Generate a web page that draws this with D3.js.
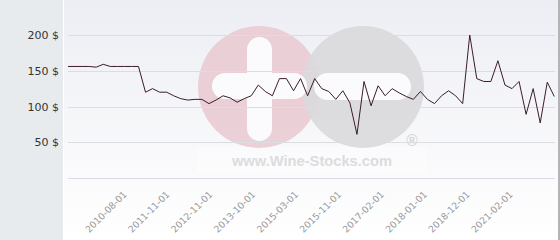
<!DOCTYPE html>
<html><head><meta charset="utf-8">
<script src="https://cdn.jsdelivr.net/npm/d3@7"></script>
<style>body{margin:0;background:#fff}svg{display:block}</style>
</head><body><svg id="c" width="560" height="240"></svg>
<script>
const priceValues = [156,156,156,156,155,159,156,156,156,156,156,120,125,120,120,115,111,109,110,110,
  104,109,115,112,106,111,115,130,121,115,139,139,122,139,115,139,125,121,110,122,
  105,61,135,101,129,115,125,119,114,110,121,110,104,115,122,115,104,200,139,135,
  135,164,130,125,135,89,125,77,134,114];
const tickIndex = [8,14,20,26,32,38,44,50,56,62];
const tickLabels = ["2010-08-01","2011-11-01","2012-11-01","2013-10-01","2015-03-01",
  "2015-11-01","2017-02-01","2018-01-01","2018-12-01","2021-02-01"];
const yTicks = [0,50,100,150,200];

(function(){
const svg = d3.select("#c");
const W = 560, H = 240;
const pLeft = 68, pRight = 554.3, pTop = 35, pBottom = 178;

const defs = svg.append("defs");
const g1 = defs.append("linearGradient").attr("id","bg").attr("x1",0).attr("y1",0).attr("x2",0).attr("y2",1);
g1.append("stop").attr("offset","0%").attr("stop-color","#edeef4");
g1.append("stop").attr("offset","100%").attr("stop-color","#ffffff");

svg.append("rect").attr("x",0).attr("y",0).attr("width",W).attr("height",H).attr("fill","url(#bg)");
svg.append("rect").attr("x",0).attr("y",0).attr("width",63).attr("height",H).attr("fill","#e7ebee");
svg.append("rect").attr("x",63).attr("y",0).attr("width",1).attr("height",H).attr("fill","#ffffff");
svg.append("rect").attr("x",558).attr("y",0).attr("width",2).attr("height",H).attr("fill","#b4b4b4");

const x = d3.scaleLinear().domain([0, priceValues.length-1]).range([pLeft, pRight]);
const y = d3.scaleLinear().domain([0, 200]).range([pBottom, pTop]);

// watermark
const wm = svg.append("g");
wm.append("rect").attr("x",197).attr("y",146).attr("width",230).attr("height",27).attr("fill","#ffffff").attr("opacity",0.35);
wm.append("circle").attr("cx",259).attr("cy",87).attr("r",61).attr("fill","#eacbd3").attr("opacity",0.9);
wm.append("circle").attr("cx",363).attr("cy",87).attr("r",61).attr("fill","#d9d9db").attr("opacity",0.9);
wm.append("rect").attr("x",247).attr("y",37).attr("width",25).attr("height",104).attr("rx",12.5).attr("fill","#fbfbfd");
wm.append("rect").attr("x",212).attr("y",73).attr("width",95).attr("height",26).attr("rx",13).attr("fill","#fbfbfd");
wm.append("rect").attr("x",314).attr("y",73).attr("width",97).attr("height",27).attr("rx",13.5).attr("fill","#fbfbfd");
wm.append("text").attr("x",412).attr("y",146).attr("text-anchor","middle").attr("font-family","DejaVu Sans")
  .attr("font-size",15).attr("fill","#d4d4d6").text("®");
wm.append("text").attr("x",312).attr("y",166).attr("text-anchor","middle").attr("font-family","Liberation Sans")
  .attr("font-weight","bold").attr("font-size",14.7).attr("fill","#dcdce0").text("www.Wine-Stocks.com");

// grid
svg.append("g").selectAll("line").data(yTicks).join("line")
  .attr("x1",pLeft).attr("x2",555).attr("y1",d=>Math.round(y(d))+0.5).attr("y2",d=>Math.round(y(d))+0.5)
  .attr("stroke","#dcdde2").attr("stroke-width",1);

// y labels
svg.append("g").selectAll("text").data(yTicks.filter(d=>d>0)).join("text")
  .attr("x",59).attr("y",d=>y(d)+4).attr("text-anchor","end")
  .attr("font-family","DejaVu Sans").attr("font-size",11).attr("fill","#333")
  .text(d=>d+" $");

// x labels
svg.append("g").selectAll("text").data(tickIndex).join("text")
  .attr("transform",(d,i)=>`translate(${x(d)+3+i*0.6},${pBottom+17}) rotate(-45)`)
  .attr("text-anchor","end").attr("font-family","DejaVu Sans").attr("font-size",9.3).attr("fill","#999999")
  .text((d,i)=>tickLabels[i]);

// line
svg.append("path").datum(priceValues)
  .attr("d", d3.line().x((d,i)=>x(i)).y(d=>y(d)))
  .attr("fill","none").attr("stroke","#3b1c2a").attr("stroke-width",1);
})();
</script></body></html>
